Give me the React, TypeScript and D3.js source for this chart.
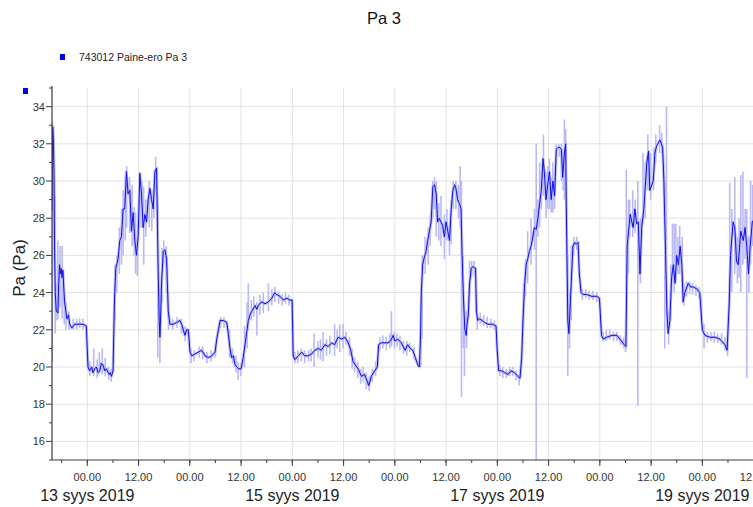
import React from "react";
import * as d3 from "d3";

// ---- data (hours relative to 13 Sep 2019 00:00, value in Pa) ----
const seriesPoints: [number, number][] = [
  [-8.27, 28.4], [-8.2, 31.0], [-8.1, 32.9], [-7.95, 32.2], [-7.8, 30.5], [-7.68, 26.5], [-7.5, 24.0], [-7.28, 23.0], [-6.89, 22.9], [-6.7, 24.5], [-6.5, 25.5], [-6.3, 25.0], [-6.11, 25.3], [-5.9, 24.8], [-5.72, 25.2], [-5.5, 24.2], [-5.32, 23.5], [-4.78, 22.6], [-4.4, 22.8], [-4.15, 22.3], [-3.6, 22.1], [-2.98, 22.3], [-2.19, 22.3], [-1.02, 22.3], [-0.23, 22.2],
  [0.16, 20.0], [0.55, 19.8], [1.0, 20.0], [1.33, 19.7], [1.7, 19.9], [2.11, 20.0], [2.5, 19.7], [2.9, 19.8], [3.3, 20.2], [3.68, 20.1], [4.1, 19.8], [4.46, 19.9], [5.09, 19.6], [5.4, 19.7], [5.64, 19.5], [6.03, 19.8], [6.3, 23.0], [6.42, 24.0], [6.66, 25.3], [7.2, 25.8], [7.6, 26.8], [7.99, 27.0], [8.38, 28.5], [8.77, 28.5], [9.16, 30.5], [9.55, 29.3], [9.95, 29.5], [10.34, 27.3], [10.73, 28.3], [11.12, 26.8], [11.51, 26.0], [11.9, 27.0], [12.29, 30.4], [12.69, 29.3], [13.08, 27.5], [13.47, 28.2], [13.86, 27.8], [14.25, 29.0], [14.64, 29.6], [15.04, 29.0], [15.43, 28.5], [15.82, 30.5], [16.21, 30.7], [16.37, 28.5], [16.6, 25.0], [16.84, 22.5], [17.0, 21.6], [17.2, 23.0], [17.38, 24.5], [17.78, 26.2], [18.17, 26.3], [18.56, 25.8], [18.95, 23.0], [19.34, 22.3], [20.13, 22.3], [20.91, 22.4], [21.69, 22.5], [22.08, 22.3], [22.47, 22.0], [22.87, 21.7], [23.26, 22.0], [23.65, 22.0],
  [24.04, 20.8], [24.43, 20.6], [25.22, 20.7], [26.0, 20.8], [26.78, 20.9], [27.56, 20.6], [28.35, 20.5], [29.13, 20.6], [29.91, 20.8], [30.31, 21.5], [30.7, 22.0], [31.09, 22.5], [31.87, 22.5], [32.65, 22.4], [33.0, 21.8], [33.4, 21.0], [33.8, 20.5], [34.2, 20.6], [34.6, 20.1], [35.0, 20.0], [35.5, 19.9], [36.0, 19.9], [36.5, 20.5], [37.1, 21.5], [37.7, 22.5], [38.1, 22.8], [38.5, 23.0], [39.3, 23.3], [39.7, 23.1], [40.0, 23.3], [40.8, 23.5], [41.6, 23.4], [42.4, 23.5], [43.2, 23.7], [43.9, 24.0], [44.3, 23.9], [45.1, 23.8], [45.9, 23.6], [46.7, 23.7], [47.4, 23.6], [47.95, 23.6],
  [48.2, 20.6], [48.6, 20.4], [49.4, 20.6], [50.2, 20.8], [50.9, 20.6], [51.7, 20.6], [52.5, 20.7], [53.3, 20.9], [54.1, 21.0], [54.8, 20.9], [55.6, 21.2], [56.4, 21.1], [57.2, 21.3], [57.9, 21.2], [58.7, 21.6], [59.5, 21.5], [60.3, 21.6], [61.1, 21.3], [61.7, 20.9], [62.2, 20.3], [62.8, 20.1], [63.4, 19.9], [64.2, 19.5], [64.9, 19.6], [65.6, 19.2], [65.9, 19.0], [66.5, 19.5], [67.3, 19.8], [67.9, 20.0], [68.2, 21.2], [68.8, 21.3], [69.6, 21.3], [70.4, 21.3], [71.0, 21.4], [71.6, 21.7],
  [72.0, 21.4], [72.7, 21.5], [73.5, 21.3], [74.4, 20.9], [75.0, 21.2], [75.6, 21.0], [76.2, 20.9], [76.8, 20.5], [77.4, 20.1], [77.75, 20.0], [78.0, 21.5], [78.2, 24.0], [78.5, 25.5], [78.9, 25.9], [79.3, 26.2], [79.7, 26.8], [80.1, 27.3], [80.5, 27.8], [80.9, 29.7], [81.3, 29.8], [81.7, 29.3], [82.0, 27.8], [82.4, 28.0], [82.8, 27.8], [83.2, 27.6], [83.6, 27.0], [84.0, 27.8], [84.4, 27.3], [84.8, 26.8], [85.2, 28.5], [85.6, 29.5], [86.0, 29.8], [86.3, 29.6], [86.7, 29.0], [87.1, 28.8], [87.5, 28.5], [87.75, 26.0], [88.1, 23.5], [88.4, 22.0], [88.7, 21.7], [88.9, 22.3], [89.2, 22.8], [89.5, 24.5], [89.9, 25.3], [90.25, 25.4], [90.9, 25.3], [91.1, 23.0], [91.4, 22.5], [91.8, 22.6], [92.4, 22.5], [93.0, 22.4], [93.8, 22.3], [94.9, 22.3], [95.7, 22.2],
  [95.95, 21.0], [96.3, 19.8], [96.9, 19.8], [97.7, 19.7], [98.5, 19.6], [99.2, 19.8], [100.0, 19.7], [100.8, 19.5], [101.3, 19.4], [101.7, 20.5], [102.0, 22.5], [102.4, 24.5], [102.75, 25.5], [103.1, 25.8], [103.5, 26.2], [103.9, 26.5], [104.3, 27.0], [104.7, 27.5], [105.1, 27.4], [105.5, 28.0], [105.9, 28.8], [106.3, 29.5], [106.7, 31.2], [107.0, 30.5], [107.4, 29.0], [107.8, 29.8], [108.2, 30.5], [108.6, 29.0], [109.0, 30.0], [109.4, 29.2], [109.8, 31.7], [110.2, 31.8], [110.6, 31.8], [111.0, 31.7], [111.3, 30.2], [111.7, 31.5], [112.0, 32.0], [112.1, 29.5], [112.3, 26.0], [112.5, 22.5], [112.75, 21.8], [113.1, 23.5], [113.3, 24.5], [113.7, 26.5], [114.1, 26.7], [114.5, 26.6], [114.9, 26.7], [115.2, 25.0], [115.6, 24.0], [116.1, 23.9], [116.9, 23.9], [118.1, 23.8], [119.3, 23.8], [119.9, 23.7],
  [120.4, 21.7], [120.8, 21.5], [121.6, 21.6], [122.8, 21.7], [124.0, 21.7], [124.7, 21.5], [125.7, 21.2], [126.1, 21.1], [126.4, 26.5], [127.1, 28.2], [127.8, 27.5], [128.2, 28.5], [128.6, 27.7], [129.0, 27.8], [129.4, 25.0], [129.8, 27.5], [130.3, 28.5], [131.0, 31.0], [131.4, 31.6], [131.7, 29.5], [132.5, 30.0], [132.9, 31.5], [133.3, 31.9], [134.1, 32.2], [134.7, 31.8], [135.0, 30.0], [135.3, 27.0], [135.7, 23.0], [136.0, 21.8], [136.4, 22.5], [136.8, 24.8], [137.2, 25.5], [137.6, 24.5], [138.0, 26.0], [138.4, 25.5], [138.8, 26.5], [139.2, 25.5], [139.5, 23.5], [139.9, 24.0], [140.7, 24.5], [141.3, 24.3], [141.9, 24.3], [142.7, 24.2], [143.4, 24.0],
  [144.0, 22.0], [144.6, 21.7], [145.8, 21.6], [147.0, 21.6], [148.1, 21.5], [149.3, 21.2], [149.8, 20.9], [150.3, 23.5], [150.6, 26.0], [151.2, 27.8], [151.6, 27.5], [152.0, 25.7], [152.4, 25.5], [153.0, 27.3], [153.6, 26.8], [154.0, 27.5], [154.4, 26.5], [154.8, 25.0], [155.2, 26.5], [155.7, 27.8], [156.3, 28.0],
];

// min / max range of the raw samples [hour, min, max]
const rangeSpikes: [number, number, number][] = [
  [-8.2, 20.3, 33.2], [-7.9, 28.0, 33.0], [-7.5, 21.8, 29.2], [-7.1, 22.5, 24.5], [-6.9, 22.6, 26.8], [-6.4, 23.2, 26.5], [-5.9, 22.6, 26.5], [-5.4, 22.3, 24.0], [-5.0, 22.0, 23.5], [-4.3, 22.0, 23.0], [-3.3, 22.0, 22.6], [-2.5, 22.0, 22.6], [-1.8, 22.1, 22.6], [-1.0, 22.0, 22.6],
  [0.6, 19.5, 20.3], [1.5, 19.5, 21.0], [2.3, 19.4, 20.4], [2.8, 19.6, 20.8], [3.5, 19.6, 21.0], [4.2, 19.5, 20.5], [5.0, 19.3, 20.0], [5.6, 19.2, 19.9],
  [6.5, 22.5, 25.5], [6.9, 24.0, 26.0], [7.5, 25.0, 27.5], [8.0, 25.5, 28.5], [8.4, 26.0, 29.5], [8.9, 26.8, 30.2], [9.2, 27.5, 30.8], [9.9, 27.2, 30.2], [10.5, 26.5, 29.8], [11.0, 26.0, 28.6], [11.3, 25.0, 28.3], [11.7, 24.9, 27.0], [12.3, 27.5, 30.5], [12.8, 27.5, 30.0], [13.2, 25.5, 29.7], [13.7, 27.0, 29.0], [14.5, 27.5, 30.0], [15.1, 27.3, 29.5], [15.6, 28.0, 29.8], [16.0, 29.5, 31.3], [16.5, 20.5, 29.0], [17.0, 20.2, 23.5], [17.5, 23.5, 26.4], [17.9, 25.5, 26.8], [18.5, 24.0, 26.5], [19.0, 22.0, 24.0],
  [20.0, 22.0, 22.6], [21.0, 22.1, 22.7], [22.0, 21.8, 22.6], [22.9, 21.4, 22.2], [24.3, 20.2, 21.0], [25.0, 20.3, 20.9], [26.2, 20.5, 21.1], [27.0, 20.4, 21.1], [28.0, 20.2, 20.8], [29.0, 20.3, 20.9], [30.0, 20.5, 21.2],
  [31.2, 22.1, 22.7], [32.0, 22.1, 22.7], [33.3, 20.5, 22.0], [34.0, 20.2, 21.0], [34.8, 19.7, 20.6], [35.3, 19.3, 20.3], [35.9, 19.5, 20.2],
  [36.8, 20.0, 22.2], [37.4, 21.0, 23.5], [37.7, 22.0, 24.5], [38.4, 22.5, 23.6], [39.0, 22.7, 23.8], [39.7, 21.7, 23.5], [40.4, 22.8, 23.9], [41.2, 22.9, 24.0], [42.4, 23.0, 24.5], [43.2, 23.3, 24.2], [43.9, 23.5, 24.3], [44.8, 23.4, 24.1], [45.6, 23.3, 23.9], [46.4, 23.4, 24.0], [47.2, 23.3, 23.9],
  [48.6, 20.2, 20.8], [49.3, 20.2, 20.9], [50.1, 20.3, 21.0], [50.9, 20.2, 20.9], [51.8, 20.3, 20.9], [52.4, 20.3, 21.0], [53.1, 20.0, 21.8], [54.0, 20.5, 21.4], [54.6, 20.4, 21.5], [55.2, 20.3, 21.9], [56.0, 20.6, 21.5], [56.8, 20.7, 21.7], [57.9, 20.6, 22.3], [58.5, 21.0, 22.0], [59.1, 20.8, 22.3], [59.9, 21.0, 22.3], [60.6, 21.2, 21.9], [61.4, 20.6, 21.6],
  [62.0, 19.9, 21.0], [62.6, 19.7, 20.5], [63.3, 19.4, 20.3], [64.0, 19.1, 19.9], [64.6, 19.2, 20.0], [65.3, 18.8, 19.7], [66.0, 18.7, 19.5], [66.7, 19.2, 19.9], [67.5, 19.5, 20.3],
  [68.5, 20.9, 21.6], [69.2, 21.0, 21.7], [70.0, 20.9, 21.6], [70.8, 21.0, 21.8], [71.2, 21.1, 23.0], [71.9, 21.0, 21.9], [72.5, 21.1, 21.8], [73.2, 20.9, 21.7], [74.0, 20.7, 21.4], [74.8, 20.6, 21.4], [75.5, 20.8, 21.3], [76.5, 20.4, 21.1],
  [78.1, 20.0, 23.5], [78.4, 21.5, 26.0], [79.1, 25.0, 27.0], [79.8, 25.5, 27.5], [80.3, 26.5, 28.2], [80.9, 28.0, 30.0], [81.3, 28.5, 30.2], [81.7, 27.0, 30.0], [82.3, 26.8, 28.8], [82.8, 26.5, 29.2], [83.6, 25.8, 28.2], [84.2, 26.8, 28.5], [84.8, 26.0, 27.8], [85.2, 26.6, 29.0], [85.7, 28.5, 30.0], [86.3, 28.5, 30.0], [86.9, 28.0, 29.8], [87.3, 27.5, 30.8], [87.6, 18.4, 30.0], [88.0, 21.0, 26.0], [88.3, 19.5, 23.5], [88.8, 21.0, 23.0], [89.5, 24.0, 25.7], [90.0, 24.8, 25.7], [90.6, 24.9, 25.7], [91.3, 22.0, 23.5],
  [92.0, 22.3, 22.9], [92.8, 22.2, 22.8], [93.6, 22.1, 22.7], [94.5, 22.1, 22.6], [95.3, 22.0, 22.5], [96.6, 19.5, 20.1], [97.3, 19.4, 20.0], [98.1, 19.4, 19.9], [98.9, 19.5, 20.0], [99.6, 19.5, 20.0], [100.4, 19.3, 19.8], [101.1, 19.0, 19.6],
  [102.1, 22.0, 24.5], [102.6, 23.8, 25.8], [103.1, 24.5, 27.3], [103.9, 25.5, 28.0], [104.7, 26.3, 28.5], [105.1, 15.0, 32.0], [105.5, 27.0, 29.0], [105.9, 27.5, 31.0], [106.3, 28.5, 30.5], [106.8, 29.2, 32.5], [107.4, 28.0, 30.5], [107.8, 28.5, 30.8], [108.2, 28.5, 31.2], [108.6, 28.3, 30.2], [109.0, 28.3, 31.0], [109.4, 28.5, 30.5], [109.8, 30.5, 32.0], [110.5, 31.3, 32.0], [111.0, 30.0, 32.0], [111.4, 29.5, 31.5], [111.7, 29.0, 33.3], [112.0, 30.5, 32.8], [112.5, 19.5, 26.0], [112.9, 21.0, 24.0], [113.3, 22.5, 26.5], [113.9, 26.0, 27.0], [114.6, 26.3, 27.0],
  [115.9, 23.6, 24.2], [116.7, 23.7, 24.2], [117.5, 23.6, 24.1], [118.4, 23.6, 24.1], [119.3, 23.5, 24.0],
  [120.8, 21.4, 21.9], [121.5, 21.4, 22.0], [122.3, 21.5, 22.0], [123.2, 21.4, 21.9], [124.0, 21.4, 21.9], [124.8, 21.2, 21.7], [125.6, 21.0, 21.6], [126.0, 20.8, 21.4],
  [126.2, 21.0, 30.6], [126.7, 25.0, 29.0], [127.0, 27.0, 29.0], [127.7, 27.0, 29.5], [128.3, 27.2, 29.0], [128.9, 17.9, 30.0], [129.5, 24.5, 28.0], [130.1, 28.5, 31.5], [130.6, 28.0, 31.0], [131.25, 29.5, 32.5], [131.9, 29.0, 31.5], [132.6, 29.5, 31.8], [133.1, 31.0, 32.5], [134.0, 31.5, 33.0], [134.5, 31.5, 32.6], [135.2, 21.0, 30.0], [135.6, 23.0, 34.0], [136.1, 21.2, 23.0], [136.6, 22.5, 25.5], [137.0, 25.0, 27.7], [137.4, 24.0, 27.7], [137.8, 25.0, 27.7], [138.3, 25.0, 27.0], [138.7, 25.0, 27.6], [139.3, 24.5, 27.0], [139.7, 23.3, 24.5],
  [140.3, 23.8, 24.6], [141.0, 23.9, 24.6], [141.7, 23.9, 24.5], [142.5, 23.8, 24.4], [143.2, 23.7, 24.3],
  [144.4, 21.0, 22.3], [145.2, 21.3, 21.9], [146.0, 21.4, 21.9], [146.8, 21.3, 21.9], [147.6, 21.3, 21.8], [148.5, 21.2, 21.8], [149.3, 20.9, 21.6], [149.9, 20.6, 21.3],
  [150.4, 24.0, 29.9], [150.9, 24.0, 28.5], [151.6, 25.0, 30.2], [152.2, 24.5, 27.0], [152.6, 24.8, 28.0], [153.0, 24.0, 30.3], [153.5, 25.5, 30.5], [154.0, 25.8, 28.5], [154.4, 19.4, 28.5], [154.9, 24.0, 27.0], [155.3, 25.5, 30.0], [155.8, 26.5, 29.8],
];

const yTickValues = [16, 18, 20, 22, 24, 26, 28, 30, 32, 34];
const yMinorTickValues = [15, 17, 19, 21, 23, 25, 27, 29, 31, 33, 35];
const monthNames = ["tammi", "helmi", "maalis", "huhti", "touko", "kesä", "heinä", "elo", "syys", "loka", "marras", "joulu"];
const chartTitle = "Pa 3";
const legendLabel = "743012  Paine-ero Pa 3";
const yAxisTitle = "Pa (Pa)";

const BASE = new Date(2019, 8, 13, 0, 0, 0);
const toDate = (h: number) => new Date(BASE.getTime() + h * 3600 * 1000);

export default function App() {
  const W = 753, H = 507;
  const left = 52, top = 88, bottom = 460;
  const pxPerHour = 4.271;
  const hStart = -8.27, hEnd = 168;
  const x = d3.scaleTime()
    .domain([toDate(hStart), toDate(hEnd)])
    .range([left, left + (hEnd - hStart) * pxPerHour]);
  const y = d3.scaleLinear().domain([15, 35]).range([bottom, top]);

  const line = d3.line<[number, number]>()
    .x((d) => x(toDate(d[0])))
    .y((d) => y(d[1]));
  const path = line(seriesPoints) || "";

  const majorTicks = x.ticks(d3.timeHour.every(12)!).filter((t) => x(t) >= left);
  const minorTicks = x.ticks(d3.timeHour.every(6)!).filter((t) => x(t) >= left);
  const dayTicks = x.ticks(d3.timeDay.every(2)!).filter((t) => x(t) >= left);
  const fmtTime = d3.timeFormat("%H.%M");
  const fmtDay = (d: Date) => `${d.getDate()} ${monthNames[d.getMonth()]} ${d.getFullYear()}`;

  const gridColor = "#e2e2e2";
  const axisColor = "#3c3c3c";
  const lightBlue = "#b9b9f6";
  const mainBlue = "#1010e8";
  const font = "Arial, 'Liberation Sans', sans-serif";

  return (
    <svg width={W} height={H} viewBox={`0 0 ${W} ${H}`}
      style={{ position: "absolute", left: 0, top: 0, display: "block", background: "#fff" }}
      fontFamily={font}>
      <rect x={0} y={0} width={W} height={H} fill="#fff" />
      <defs>
        <clipPath id="plotClip">
          <rect x={left} y={top} width={W - left + 60} height={bottom - top} />
        </clipPath>
      </defs>

      {/* title */}
      <text x={384} y={24} textAnchor="middle" fontSize={16.5} fill="#111">{chartTitle}</text>

      {/* legend */}
      <rect x={60} y={54} width={5} height={6} fill="#0000ee" />
      <text x={79} y={61} fontSize={10.5} fill="#222">{legendLabel}</text>
      <rect x={23} y={88} width={5} height={6} fill="#0000ee" />

      {/* grid */}
      {yTickValues.map((v) => (
        <line key={"gy" + v} x1={left} x2={W} y1={y(v)} y2={y(v)} stroke={gridColor} strokeWidth={1} />
      ))}
      {majorTicks.map((t) => (
        <line key={"gx" + t.getTime()} x1={x(t)} x2={x(t)} y1={top} y2={bottom} stroke={gridColor} strokeWidth={1} />
      ))}

      {/* data */}
      <g clipPath="url(#plotClip)">
        {rangeSpikes.map((s, i) => (
          <line key={"sp" + i} x1={x(toDate(s[0]))} x2={x(toDate(s[0]))} y1={y(s[1])} y2={y(s[2])}
            stroke={lightBlue} strokeWidth={1.6} />
        ))}
        <path d={path} fill="none" stroke={lightBlue} strokeWidth={2.8} strokeLinejoin="round" />
        <path d={path} fill="none" stroke={mainBlue} strokeWidth={1} strokeLinejoin="round" />
      </g>

      {/* y axis */}
      <line x1={left} x2={left} y1={top - 2} y2={bottom} stroke={axisColor} strokeWidth={1.2} />
      {yMinorTickValues.map((v) => (
        <line key={"ym" + v} x1={left - 3} x2={left} y1={y(v)} y2={y(v)} stroke={axisColor} strokeWidth={1} />
      ))}
      {yTickValues.map((v) => (
        <g key={"yt" + v}>
          <line x1={left - 6} x2={left} y1={y(v)} y2={y(v)} stroke={axisColor} strokeWidth={1} />
          <text x={left - 7} y={y(v) + 4} textAnchor="end" fontSize={11} fill="#333">{v}</text>
        </g>
      ))}
      <text transform={`translate(25, 268) rotate(-90)`} textAnchor="middle" fontSize={17} fill="#222">{yAxisTitle}</text>

      {/* x axis */}
      <line x1={left} x2={W} y1={bottom} y2={bottom} stroke={axisColor} strokeWidth={1.2} />
      {minorTicks.map((t) => (
        <line key={"xm" + t.getTime()} x1={x(t)} x2={x(t)} y1={bottom} y2={bottom + 3} stroke={axisColor} strokeWidth={1} />
      ))}
      {majorTicks.map((t) => (
        <g key={"xt" + t.getTime()}>
          <line x1={x(t)} x2={x(t)} y1={bottom} y2={bottom + 6} stroke={axisColor} strokeWidth={1} />
          <text x={x(t)} y={481} textAnchor="middle" fontSize={11} fill="#333">{fmtTime(t)}</text>
        </g>
      ))}
      {dayTicks.map((t) => (
        <text key={"xd" + t.getTime()} x={x(t)} y={501} textAnchor="middle" fontSize={16} fill="#222">{fmtDay(t)}</text>
      ))}
    </svg>
  );
}
